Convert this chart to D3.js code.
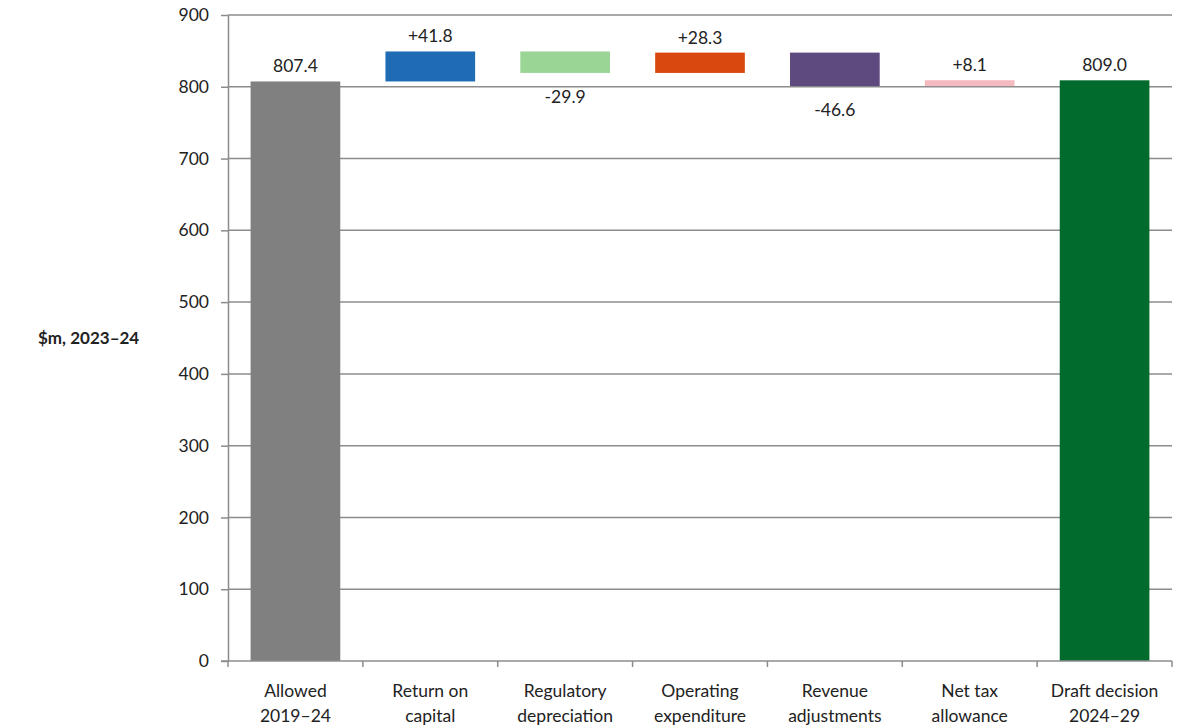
<!DOCTYPE html>
<html>
<head>
<meta charset="utf-8">
<script src="https://cdn.jsdelivr.net/npm/d3@7"></script>
<style>
  body { margin: 0; background: #fff; }
  svg text { font-family: Lato, "Open Sans", sans-serif; fill: #222; }
</style>
</head>
<body>
<svg id="chart"></svg>
<script>
// categories and values
const categories = [
  ["Allowed", "2019–24"],
  ["Return on", "capital"],
  ["Regulatory", "depreciation"],
  ["Operating", "expenditure"],
  ["Revenue", "adjustments"],
  ["Net tax", "allowance"],
  ["Draft decision", "2024–29"]
];
const values = [807.4, 41.8, -29.9, 28.3, -46.6, 8.1, 809.0];
const isTotal = [true, false, false, false, false, false, true];
const labels = ["807.4", "+41.8", "-29.9", "+28.3", "-46.6", "+8.1", "809.0"];
const colors = ["#808080", "#1f6cb5", "#9ad596", "#d9480f", "#5e4a7e", "#f5b9c0", "#006b2d"];
const yTicks = [0, 100, 200, 300, 400, 500, 600, 700, 800, 900];

const config = {
  width: 1184, height: 728,
  margin: {top: 15, right: 12, bottom: 67, left: 228}
};
const width = config.width - config.margin.left - config.margin.right;
const height = config.height - config.margin.top - config.margin.bottom;

// build waterfall segments
let running = 0;
const bars = values.map((v, i) => {
  let y0, y1;
  if (isTotal[i]) { y0 = 0; y1 = v; running = v; }
  else { y0 = running; y1 = running + v; running = y1; }
  return {i, v, y0, y1, label: labels[i], color: colors[i], total: isTotal[i]};
});

const svg = d3.select("#chart")
  .attr("width", config.width)
  .attr("height", config.height);

const chart = svg.append("g")
  .attr("transform", `translate(${config.margin.left},${config.margin.top})`);

const xScale = d3.scaleBand()
  .domain(d3.range(categories.length))
  .range([0, width])
  .paddingInner(0.335)
  .paddingOuter(0.1675);

const yScale = d3.scaleLinear()
  .domain([0, 900])
  .range([height, 0]);

// gridlines
chart.append("g")
  .selectAll("line")
  .data(yTicks.filter(d => d > 0))
  .join("line")
    .attr("x1", 0).attr("x2", width)
    .attr("y1", d => yScale(d)).attr("y2", d => yScale(d))
    .attr("stroke", "#8c8c8c")
    .attr("stroke-width", 1.5);

// bars
chart.append("g")
  .selectAll("rect")
  .data(bars)
  .join("rect")
    .attr("x", d => xScale(d.i))
    .attr("y", d => yScale(Math.max(d.y0, d.y1)))
    .attr("width", xScale.bandwidth())
    .attr("height", d => Math.abs(yScale(d.y0) - yScale(d.y1)))
    .attr("fill", d => d.color);

// value labels: above for totals and increases, below for decreases
chart.append("g")
  .selectAll("text")
  .data(bars)
  .join("text")
    .attr("x", d => xScale(d.i) + xScale.bandwidth() / 2)
    .attr("y", d => d.v >= 0 ? yScale(Math.max(d.y0, d.y1)) - 9 : yScale(Math.min(d.y0, d.y1)) + 30)
    .attr("text-anchor", "middle")
    .attr("font-size", 17.5)
    .text(d => d.label);

// y axis
const yAxis = d3.axisLeft(yScale).tickValues(yTicks).tickSize(7).tickSizeOuter(0).tickPadding(12);
const yAxisGroup = chart.append("g").call(yAxis);
yAxisGroup.select(".domain").attr("stroke", "#8c8c8c").attr("stroke-width", 1.5);
yAxisGroup.selectAll(".tick line").attr("stroke", "#8c8c8c").attr("stroke-width", 1.5);
yAxisGroup.selectAll(".tick text").attr("font-size", 17.5).attr("fill", "#222");

// x axis line with category separators
const xAxisGroup = chart.append("g").attr("transform", `translate(0,${height})`);
xAxisGroup.append("line")
  .attr("x1", -7).attr("x2", width)
  .attr("stroke", "#8c8c8c").attr("stroke-width", 1.5);
const step = xScale.step();
xAxisGroup.selectAll(".sep")
  .data(d3.range(categories.length + 1))
  .join("line")
    .attr("class", "sep")
    .attr("x1", d => xScale(0) - xScale.paddingOuter() * step + d * step)
    .attr("x2", d => xScale(0) - xScale.paddingOuter() * step + d * step)
    .attr("y1", 0).attr("y2", 6)
    .attr("stroke", "#8c8c8c").attr("stroke-width", 1.5);

// category labels
const catText = xAxisGroup.selectAll(".cat")
  .data(categories)
  .join("text")
    .attr("class", "cat")
    .attr("x", (d, i) => xScale(i) + xScale.bandwidth() / 2)
    .attr("y", 36)
    .attr("text-anchor", "middle")
    .attr("font-size", 17.5);
catText.append("tspan").attr("x", (d, i) => xScale(i) + xScale.bandwidth() / 2).text(d => d[0]);
catText.append("tspan").attr("x", (d, i) => xScale(i) + xScale.bandwidth() / 2).attr("dy", 25).text(d => d[1]);

// y axis title
svg.append("text")
  .attr("x", 38)
  .attr("y", 344)
  .attr("font-size", 17)
  .attr("font-weight", "bold")
  .text("$m, 2023–24");
</script>
</body>
</html>
